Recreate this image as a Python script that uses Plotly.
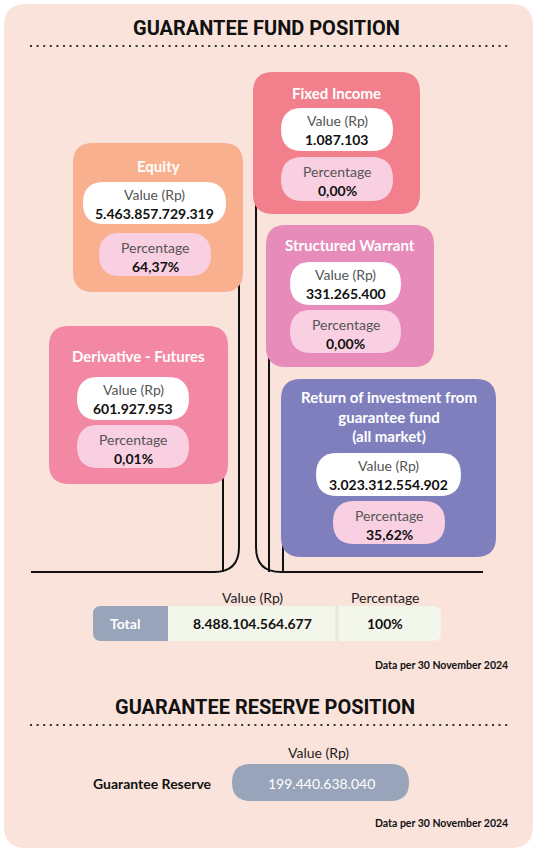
import plotly.graph_objects as go

# asset categories of the guarantee fund
categories = [
    "Equity",
    "Fixed Income",
    "Structured Warrant",
    "Derivative - Futures",
    "Return of investment from<br>guarantee fund<br>(all market)",
]
values_rp = ["5.463.857.729.319", "1.087.103", "331.265.400", "601.927.953", "3.023.312.554.902"]
percentages = ["64,37%", "0,00%", "0,00%", "0,01%", "35,62%"]

value_header = "Value (Rp)"
pct_header = "Percentage"
total_label = "Total"
total_value = "8.488.104.564.677"
total_percentage = "100%"
reserve_label = "Guarantee Reserve"
reserve_value = "199.440.638.040"
data_date = "Data per 30 November 2024"
title_fund = "GUARANTEE FUND POSITION"
title_reserve = "GUARANTEE RESERVE POSITION"

# layout of each card: box, title y, value pill, percentage pill
cards = [
    dict(box=(73, 143, 243, 292), ty=166, vp=(83, 182, 226, 224), pp=(99, 233, 211, 276), color="#f9b08f"),
    dict(box=(253, 72, 420, 214), ty=93, vp=(281, 108, 393, 151), pp=(281, 157, 393, 201), color="#f1808c"),
    dict(box=(266, 225, 434, 367), ty=245, vp=(290, 262, 401, 305), pp=(290, 310, 401, 353), color="#e68bba"),
    dict(box=(49, 326, 228, 484), ty=356, vp=(77, 377, 189, 420), pp=(77, 425, 189, 468), color="#f288a4"),
    dict(box=(281, 379, 496, 557), ty=416, vp=(316, 453, 461, 496), pp=(333, 501, 445, 544), color="#807fbd"),
]

BG = "#fae3db"
PILL_PCT = "#f9d0e1"
GREY = "#97a4b9"
LIGHT = "#f3f6ea"
FONT = "Lato"


def rrect(x0, y0, x1, y1, r, corners=(1, 1, 1, 1)):
    # corners: top-left, top-right, bottom-right, bottom-left (y grows downward)
    tl, tr, br, bl = [r * c for c in corners]
    return (f"M {x0 + tl} {y0} L {x1 - tr} {y0} Q {x1} {y0} {x1} {y0 + tr} "
            f"L {x1} {y1 - br} Q {x1} {y1} {x1 - br} {y1} "
            f"L {x0 + bl} {y1} Q {x0} {y1} {x0} {y1 - bl} "
            f"L {x0} {y0 + tl} Q {x0} {y0} {x0 + tl} {y0} Z")


shapes = []
ann = []


def text(x, y, s, size=14, color="#222", bold=False, xanchor="center", family=FONT):
    ann.append(dict(x=x, y=y, text=f"<b>{s}</b>" if bold else s, showarrow=False,
                    xanchor=xanchor, yanchor="middle",
                    font=dict(family=family, size=size, color=color)))


# background card
shapes.append(dict(type="path", path=rrect(4, 4, 533, 848, 22), fillcolor=BG, line_width=0))

# titles + dotted rules
text(266, 28, title_fund, size=20, color="#111", bold=True, family="Roboto")
text(265, 707, title_reserve, size=20, color="#111", bold=True, family="Roboto")
for yy in (46, 725):
    shapes.append(dict(type="line", x0=30, x1=508, y0=yy, y1=yy,
                       line=dict(color="#333", width=2, dash="2px,4.6px")))

# connector lines
connectors = [
    "M 239 280 L 239 547 Q 239 572 214 572 L 31 572",
    "M 223 470 L 223 572",
    "M 256 200 L 256 547 Q 256 572 281 572 L 483 572",
    "M 269 355 L 269 572",
    "M 283 545 L 283 572",
]
for p in connectors:
    shapes.append(dict(type="path", path=p, line=dict(color="#111", width=2)))

# cards
for cat, val, pct, c in zip(categories, values_rp, percentages, cards):
    shapes.append(dict(type="path", path=rrect(*c["box"], 20), fillcolor=c["color"], line_width=0))
    bx = (c["box"][0] + c["box"][2]) / 2
    text(bx, c["ty"], cat, size=15, color="white", bold=True)
    vx0, vy0, vx1, vy1 = c["vp"]
    shapes.append(dict(type="path", path=rrect(vx0, vy0, vx1, vy1, (vy1 - vy0) / 2),
                       fillcolor="white", line_width=0))
    text((vx0 + vx1) / 2, vy0 + 12, value_header, color="#555")
    text((vx0 + vx1) / 2, vy0 + 31, val, color="#111", bold=True)
    px0, py0, px1, py1 = c["pp"]
    shapes.append(dict(type="path", path=rrect(px0, py0, px1, py1, (py1 - py0) / 2),
                       fillcolor=PILL_PCT, line_width=0))
    text((px0 + px1) / 2, py0 + 14, pct_header, color="#555")
    text((px0 + px1) / 2, py0 + 33, pct, color="#111", bold=True)

# total row
text(252, 597, value_header)
text(385, 597, pct_header)
shapes.append(dict(type="path", path=rrect(93, 606, 441, 641, 8), fillcolor=LIGHT, line_width=0))
shapes.append(dict(type="path", path=rrect(93, 606, 168, 641, 8, (1, 0, 0, 1)), fillcolor=GREY, line_width=0))
shapes.append(dict(type="line", x0=337, x1=337, y0=606, y1=641, line=dict(color="#e6e8de", width=3)))
text(125, 623, total_label, color="white", bold=True)
text(252, 623, total_value, color="#111", bold=True)
text(385, 623, total_percentage, color="#111", bold=True)
text(510, 665, data_date, size=10.5, color="#111", bold=True, xanchor="right")

# reserve row
text(318, 752, value_header)
text(152, 783, reserve_label, color="#111", bold=True)
shapes.append(dict(type="path", path=rrect(232, 764, 409, 801, 18.5), fillcolor=GREY, line_width=0))
text(321, 783, reserve_value, color="white")
text(510, 823, data_date, size=10.5, color="#111", bold=True, xanchor="right")

fig = go.Figure()
fig.update_layout(
    width=537, height=853, margin=dict(l=0, r=0, t=0, b=0),
    paper_bgcolor="white", plot_bgcolor="white",
    xaxis=dict(range=[0, 537], visible=False, fixedrange=True),
    yaxis=dict(range=[853, 0], visible=False, fixedrange=True),
    shapes=shapes, annotations=ann, showlegend=False,
)
fig.write_html("out.html", config={"displayModeBar": False},
               post_script="document.body.style.margin='0';document.body.style.overflow='hidden';")
